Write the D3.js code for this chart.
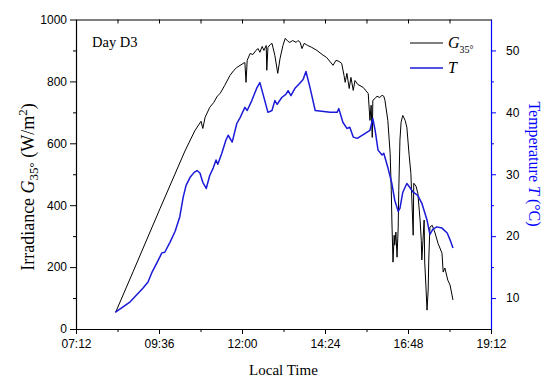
<!DOCTYPE html>
<html>
<head>
<meta charset="utf-8">
<script src="https://cdn.jsdelivr.net/npm/d3@7"></script>
<style>
  body { margin: 0; background: #fff; }
  svg text { fill: #000; }
</style>
</head>
<body>
<div id="chart"></div>
<script>
// data (Day D3)
var timeTicks = ["07:12", "09:36", "12:00", "14:24", "16:48", "19:12"];
var minorTimeTicks = ["08:24", "10:48", "13:12", "15:36", "18:00"];
var irrTicks = [0, 200, 400, 600, 800, 1000];
var tempTicks = [10, 20, 30, 40, 50];

var irrTime = ["08:21","08:51","09:38","10:21","10:38","10:45","10:49","10:52","10:56","11:04",
  "11:11","11:17","11:22","11:30","11:39","11:46","11:51","12:02","12:05","12:07",
  "12:09","12:14","12:19","12:24","12:28","12:31","12:35","12:38","12:42","12:43",
  "12:45","12:49","12:52","12:57","13:02","13:06","13:11","13:15","13:20","13:23",
  "13:28","13:34","13:37","13:41","13:44","13:48","13:54","14:01","14:10","14:19",
  "14:27","14:38","14:43","14:48","14:53","14:57","14:59","15:02","15:06","15:09",
  "15:13","15:16","15:21","15:30","15:39","15:42","15:44","15:46","15:47","15:51",
  "15:54","15:59","16:03","16:06","16:08","16:13","16:17","16:19","16:20","16:22",
  "16:24","16:25","16:27","16:29","16:31","16:32","16:34","16:36","16:38","16:39",
  "16:43","16:46","16:50","16:53","16:57","16:58","17:02","17:05","17:09","17:11",
  "17:12","17:14","17:16","17:17","17:19","17:21","17:23","17:24","17:26","17:30",
  "17:35","17:40","17:47","17:49","17:52","17:57","18:01","18:06"];
var irrValue = [55,185,390,575,640,660,671,648,684,716,
  732,752,761,787,819,836,845,858,861,797,
  868,890,887,900,906,894,913,900,916,836,
  910,919,923,884,826,874,916,939,929,926,
  932,926,932,926,906,923,916,910,900,887,
  877,852,868,865,858,819,797,826,777,813,
  771,803,790,781,761,674,723,619,739,745,
  752,748,755,752,739,674,568,448,352,216,
  303,271,313,232,329,448,610,668,684,690,
  674,652,561,503,303,471,461,439,352,287,
  223,287,352,216,142,61,126,223,329,335,
  310,277,245,184,197,158,142,94];

var tempTime = ["08:20","08:46","09:08","09:17","09:24","09:33","09:41","09:46","09:55","10:04",
  "10:12","10:18","10:23","10:30","10:37","10:42","10:47","10:52","10:58","11:04",
  "11:10","11:15","11:18","11:25","11:32","11:36","11:43","11:51","11:57","12:05",
  "12:09","12:17","12:26","12:31","12:36","12:45","12:52","12:57","13:01","13:09",
  "13:16","13:20","13:25","13:32","13:41","13:46","13:51","13:58","14:07","14:33",
  "14:45","14:48","14:55","15:02","15:07","15:13","15:20","15:42","15:47","15:51",
  "15:56","16:03","16:06","16:13","16:20","16:25","16:31","16:34","16:39","16:46",
  "16:51","16:57","17:05","17:12","17:21","17:26","17:31","17:38","17:47","17:56",
  "18:01","18:06"];
var tempValue = [7.7,9.4,11.6,12.6,14.2,15.8,17.3,17.4,19.0,20.8,
  23.1,26.3,28.2,29.5,30.3,30.6,30.2,28.7,27.7,29.8,
  31.0,32.3,31.6,33.4,35.5,36.3,35.2,38.2,39.2,40.8,
  40.3,41.9,44.0,44.8,43.1,40.0,40.3,41.9,41.3,42.4,
  42.9,43.5,42.7,43.9,44.8,45.3,46.6,44.0,40.3,40.0,
  40.0,40.6,38.4,37.4,37.6,36.0,35.8,37.1,39.0,37.1,
  33.9,33.1,33.4,31.1,28.5,25.8,24.0,24.5,27.1,28.5,
  27.9,27.1,26.6,25.3,22.6,20.3,21.1,21.5,21.3,20.5,
  19.4,18.1];

var W = 550, H = 390;
var margin = {top: 19.5, right: 59, bottom: 61, left: 76};
var width = W - margin.left - margin.right,
    height = H - margin.top - margin.bottom;
var blue = "#0000ff";
var serif = "'Liberation Serif', 'Times New Roman', serif";
var sans = "'Liberation Sans', Arial, sans-serif";

var parseT = d3.timeParse("%H:%M");
var fmtT = d3.timeFormat("%H:%M");

var x = d3.scaleTime()
    .domain([parseT("07:12"), parseT("19:12")])
    .range([0, width]);
var yL = d3.scaleLinear().domain([0, 1000]).range([height, 0]);
var yR = d3.scaleLinear().domain([5, 55]).range([height, 0]);

var irr = irrTime.map(function(t, i) { return {t: parseT(t), v: irrValue[i]}; });
var temp = tempTime.map(function(t, i) { return {t: parseT(t), v: tempValue[i]}; });

var svg = d3.select("#chart").append("svg")
    .attr("width", W)
    .attr("height", H)
  .append("g")
    .attr("transform", "translate(" + margin.left + "," + margin.top + ")");

// lines
svg.append("path")
    .datum(irr)
    .attr("fill", "none")
    .attr("stroke", "#000")
    .attr("stroke-width", 1)
    .attr("d", d3.line().x(function(d) { return x(d.t); }).y(function(d) { return yL(d.v); }));

svg.append("path")
    .datum(temp)
    .attr("fill", "none")
    .attr("stroke", "#1a1ad8")
    .attr("stroke-width", 1.5)
    .attr("stroke-linejoin", "round")
    .attr("d", d3.line().x(function(d) { return x(d.t); }).y(function(d) { return yR(d.v); }));

// bottom axis
svg.append("g")
    .attr("transform", "translate(0," + height + ")")
    .call(d3.axisBottom(x).tickValues(timeTicks.map(parseT)).tickFormat(fmtT)
      .tickSize(5).tickSizeOuter(0).tickPadding(5));
svg.append("g")
    .attr("transform", "translate(0," + height + ")")
    .call(d3.axisBottom(x).tickValues(minorTimeTicks.map(parseT)).tickFormat("")
      .tickSize(3).tickSizeOuter(0))
    .select(".domain").remove();

// top frame with inward ticks
svg.append("g")
    .call(d3.axisTop(x).tickValues(timeTicks.map(parseT).concat(minorTimeTicks.map(parseT)))
      .tickFormat("").tickSize(-4).tickSizeOuter(0));

// left axis
svg.append("g")
    .call(d3.axisLeft(yL).tickValues(irrTicks).tickFormat(d3.format("d"))
      .tickSize(6).tickSizeOuter(0).tickPadding(3));
svg.append("g")
    .call(d3.axisLeft(yL).tickValues([100, 300, 500, 700, 900]).tickFormat("")
      .tickSize(3).tickSizeOuter(0))
    .select(".domain").remove();

// right axis (blue)
var rAxis = svg.append("g")
    .attr("transform", "translate(" + width + ",0)")
    .call(d3.axisRight(yR).tickValues(tempTicks).tickSize(5).tickSizeOuter(0).tickPadding(10));
var rMinor = svg.append("g")
    .attr("transform", "translate(" + width + ",0)")
    .call(d3.axisRight(yR).tickValues([15, 25, 35, 45]).tickFormat("")
      .tickSize(3).tickSizeOuter(0));
rMinor.select(".domain").remove();
rAxis.selectAll("line, path").attr("stroke", blue);
rMinor.selectAll("line").attr("stroke", blue);

svg.selectAll(".domain").attr("stroke-width", 1.2);
svg.selectAll(".tick line").attr("stroke-width", 1);
svg.selectAll(".tick text")
    .style("font-family", sans)
    .style("font-size", "12px")
    .attr("fill", "#000");

// axis titles
svg.append("text")
    .attr("x", width / 2)
    .attr("y", height + 46)
    .attr("text-anchor", "middle")
    .style("font-family", serif)
    .style("font-size", "15px")
    .text("Local Time");

var lt = svg.append("text")
    .attr("transform", "translate(" + (34 - margin.left) + "," + (187 - margin.top) + ") rotate(-90)")
    .attr("text-anchor", "middle")
    .style("font-family", serif)
    .style("font-size", "18px");
lt.append("tspan").text("Irradiance ");
lt.append("tspan").style("font-style", "italic").text("G");
lt.append("tspan").attr("dy", 4).style("font-size", "13px").text("35°");
lt.append("tspan").attr("dy", -4).text(" (W/m");
lt.append("tspan").attr("dy", -7).style("font-size", "13px").text("2");
lt.append("tspan").attr("dy", 7).text(")");

var rt = svg.append("text")
    .attr("transform", "translate(" + (529 - margin.left) + "," + (164 - margin.top) + ") rotate(90)")
    .attr("text-anchor", "middle")
    .style("font-family", serif)
    .style("font-size", "16px")
    .style("fill", blue);
rt.append("tspan").text("Temperature  ");
rt.append("tspan").style("font-style", "italic").text("T");
rt.append("tspan").text(" (°C)");

// annotation
svg.append("text")
    .attr("x", 92 - margin.left)
    .attr("y", 47 - margin.top)
    .style("font-family", serif)
    .style("font-size", "14.5px")
    .text("Day D3");

// legend
var legend = [
  {name: "G", sub: "35°", color: "#000", w: 1, y: 43},
  {name: "T", sub: "", color: "#1a1ad8", w: 1.5, y: 68}
];
var lg = svg.append("g").attr("transform", "translate(" + (410 - margin.left) + "," + (-margin.top) + ")");
legend.forEach(function(d) {
  lg.append("line")
      .attr("x1", 0).attr("x2", 33)
      .attr("y1", d.y).attr("y2", d.y)
      .attr("stroke", d.color).attr("stroke-width", d.w);
  var t = lg.append("text")
      .attr("x", 38).attr("y", d.y + 5)
      .style("font-family", serif)
      .style("font-size", "16px");
  t.append("tspan").style("font-style", "italic").text(d.name);
  if (d.sub) t.append("tspan").attr("dy", 5).style("font-size", "10px").text(d.sub);
});
</script>
</body>
</html>
